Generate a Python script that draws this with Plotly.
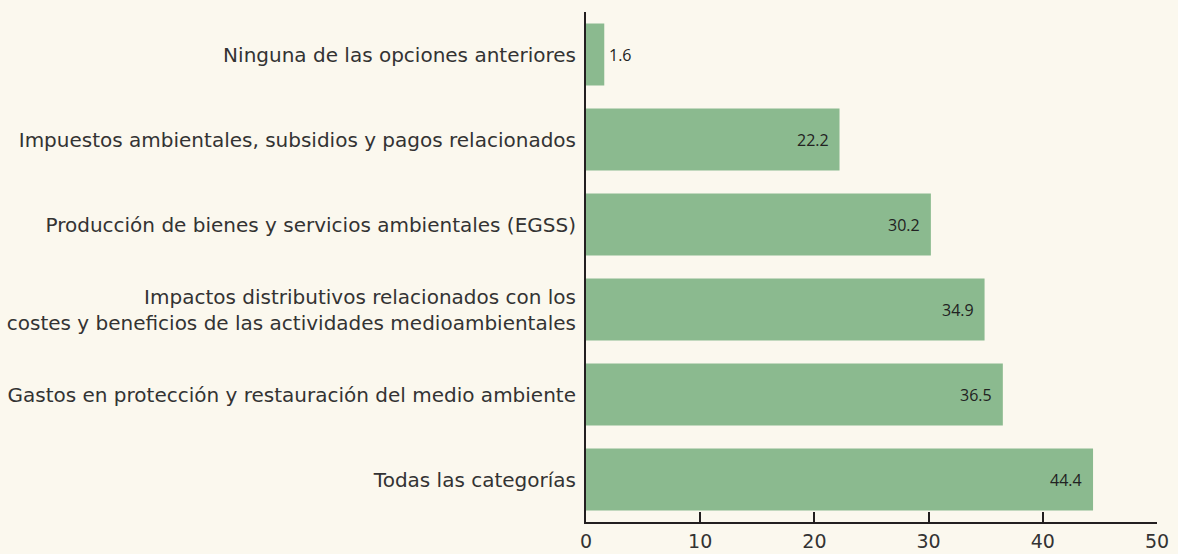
import plotly.graph_objects as go

# Categories (bottom to top) and values
categorias = [
    "Todas las categorías",
    "Gastos en protección y restauración del medio ambiente",
    "Impactos distributivos relacionados con los<br>costes y beneficios de las actividades medioambientales",
    "Producción de bienes y servicios ambientales (EGSS)",
    "Impuestos ambientales, subsidios y pagos relacionados",
    "Ninguna de las opciones anteriores",
]
valores = [44.4, 36.5, 34.9, 30.2, 22.2, 1.6]

x_ticks = [0, 10, 20, 30, 40, 50]

bg = "#FBF8EE"
bar_color = "#8BBA8F"
axis_color = "#231F20"
text_color = "#333333"

fig = go.Figure()
fig.add_trace(go.Bar(
    y=categorias,
    x=valores,
    orientation="h",
    marker=dict(color=bar_color, line=dict(width=0)),
    hoverinfo="x+y",
))

# value labels: inside the bar end, or just outside for short bars
for cat, v in zip(categorias, valores):
    inside = v > 5
    fig.add_annotation(
        x=v, y=cat,
        text=f"{v:.1f}",
        showarrow=False,
        xanchor="right" if inside else "left",
        xshift=-9 if inside else 3,
        font=dict(family="Open Sans", size=16, color="#222222"),
    )

fig.update_layout(
    width=1178,
    height=554,
    paper_bgcolor=bg,
    plot_bgcolor=bg,
    margin=dict(l=586, r=21, t=12, b=32),
    bargap=0.27,
    showlegend=False,
    font=dict(family="DejaVu Sans", size=20, color=text_color),
)
fig.update_xaxes(
    range=[0, 50],
    tickvals=x_ticks,
    showgrid=False,
    zeroline=False,
    showline=True,
    linecolor=axis_color,
    linewidth=2,
    ticks="inside",
    ticklen=10,
    tickwidth=2,
    tickcolor=axis_color,
    tickfont=dict(size=19, color=text_color),
    ticklabelstandoff=1,
    automargin=False,
)
fig.update_yaxes(
    showgrid=False,
    zeroline=False,
    showline=True,
    linecolor=axis_color,
    linewidth=2,
    ticks="",
    ticklabelstandoff=4,
    tickfont=dict(size=20, color=text_color),
    automargin=False,
)

fig.write_html(
    "out.html",
    config={"displayModeBar": False},
    post_script="document.body.style.margin='0';",
)
